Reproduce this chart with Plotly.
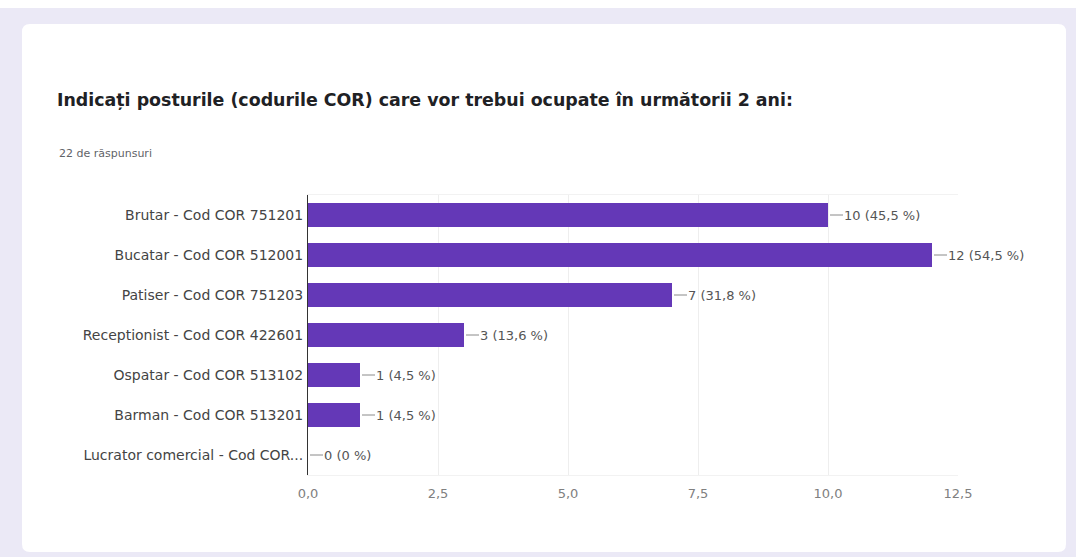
import plotly.graph_objects as go

categories = [
    "Brutar - Cod COR 751201",
    "Bucatar - Cod COR 512001",
    "Patiser - Cod COR 751203",
    "Receptionist - Cod COR 422601",
    "Ospatar - Cod COR 513102",
    "Barman - Cod COR 513201",
    "Lucrator comercial - Cod COR...",
]
counts = [10, 12, 7, 3, 1, 1, 0]
percent_labels = ["45,5 %", "54,5 %", "31,8 %", "13,6 %", "4,5 %", "4,5 %", "0 %"]
tick_vals = [0, 2.5, 5, 7.5, 10, 12.5]
tick_text = ["0,0", "2,5", "5,0", "7,5", "10,0", "12,5"]

W, H = 1076, 557
L, R, T, B = 308, 118, 195, 82
PW, PH = W - L - R, H - T - B
FONT = "DejaVu Sans, Liberation Sans, Arial"

def px_x(p):
    return (p - L) / PW

def px_y(p):
    return (H - B - p) / PH

fig = go.Figure()
fig.add_trace(go.Bar(
    x=counts, y=categories, orientation="h",
    marker=dict(color="#6438b7", line=dict(width=0)),
    hoverinfo="skip",
))

for c, n, p in zip(categories, counts, percent_labels):
    fig.add_annotation(
        x=n, y=c, xref="x", yref="y",
        text=f"{n} ({p})", showarrow=True, arrowhead=0, arrowwidth=1,
        arrowcolor="#8a8a8a", ax=15, ay=0, xanchor="left",
        font=dict(family=FONT, size=13, color="#555555"),
        standoff=2, startstandoff=0, borderpad=0,
    )

# card background
x0, x1 = px_x(22), px_x(1066)
y0, y1 = px_y(552), px_y(24)
rx, ry = 8 / PW, 8 / PH
path = (f"M {x0+rx},{y1} L {x1-rx},{y1} Q {x1},{y1} {x1},{y1-ry} "
        f"L {x1},{y0+ry} Q {x1},{y0} {x1-rx},{y0} L {x0+rx},{y0} "
        f"Q {x0},{y0} {x0},{y0+ry} L {x0},{y1-ry} Q {x0},{y1} {x0+rx},{y1} Z")
fig.add_shape(type="path", path=path, xref="paper", yref="paper",
              fillcolor="white", line=dict(width=0), layer="below")
# white strip at very top
fig.add_shape(type="rect", xref="paper", yref="paper",
              x0=px_x(0), x1=px_x(W), y0=px_y(8), y1=px_y(0),
              fillcolor="white", line=dict(width=0), layer="below")

fig.add_annotation(
    x=px_x(57), y=px_y(153), xref="paper", yref="paper",
    text="22 de răspunsuri", showarrow=False, xanchor="left", yanchor="middle",
    font=dict(family=FONT, size=11, color="#5f6368"),
)

fig.update_layout(
    width=W, height=H,
    margin=dict(l=L, r=R, t=T, b=B),
    paper_bgcolor="#ebe9f6",
    plot_bgcolor="rgba(0,0,0,0)",
    bargap=0.4,
    showlegend=False,
    title=dict(
        text="<b>Indicați posturile (codurile COR) care vor trebui ocupate în următorii 2 ani:</b>",
        x=57 / W, y=1 - 100 / H, xref="container", yref="container",
        xanchor="left", yanchor="middle",
        font=dict(family=FONT, size=17.4, color="#202124"),
    ),
    xaxis=dict(
        range=[0, 12.5], tickvals=tick_vals, ticktext=tick_text,
        showgrid=True, gridcolor="#eeeeee", gridwidth=1,
        zeroline=False, showline=True, linecolor="#f2f2f2", mirror=True,
        ticks="", ticklabelstandoff=6,
        tickfont=dict(family=FONT, size=13, color="#808080"),
        fixedrange=True,
    ),
    yaxis=dict(
        autorange="reversed", showgrid=False, zeroline=False,
        showline=True, linecolor="#333333", linewidth=1,
        ticks="", ticklabelstandoff=1,
        tickfont=dict(family=FONT, size=14, color="#444444"),
        fixedrange=True,
    ),
)

fig.write_html("out.html", config={"displayModeBar": False},
               post_script="document.body.style.margin='0';")
